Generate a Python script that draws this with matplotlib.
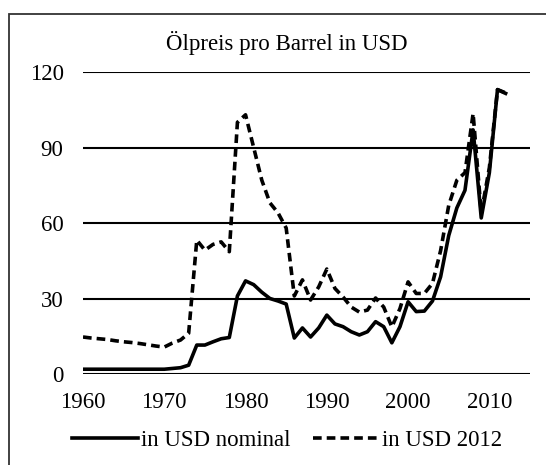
import matplotlib
matplotlib.use("Agg")
import matplotlib.pyplot as plt
from matplotlib.patches import Rectangle

years = list(range(1960, 2013))
nominal = [1.9, 1.9, 1.9, 1.9, 1.9, 1.9, 1.9, 1.9, 1.9, 1.9,
           1.9, 2.2, 2.5, 3.5, 11.5, 11.5, 12.8, 14.0, 14.5, 31.0,
           37.0, 35.5, 32.5, 30.0, 29.0, 27.8, 14.3, 18.3, 14.7, 18.3,
           23.4, 19.9, 18.8, 16.8, 15.5, 16.8, 20.8, 18.8, 12.4, 18.8,
           28.7, 24.8, 25.0, 29.0, 38.6, 55.0, 66.0, 73.0, 97.0, 62.0,
           80.0, 113.0, 111.5]
real2012 = [14.7, 14.3, 14.0, 13.7, 13.2, 12.8, 12.5, 12.1, 11.6, 11.1,
            10.7, 12.3, 13.5, 16.2, 53.2, 49.2, 51.5, 52.5, 48.6, 100.0,
            103.0, 90.0, 77.0, 68.0, 64.0, 58.0, 31.0, 37.4, 29.4, 34.6,
            41.7, 34.0, 30.6, 26.6, 24.6, 25.4, 30.2, 26.6, 18.7, 26.0,
            36.6, 32.0, 32.0, 36.0, 49.0, 67.0, 77.0, 80.0, 103.5, 64.0,
            82.0, 113.0, 111.7]
yticks = [0, 30, 60, 90, 120]
xticks = [1960, 1970, 1980, 1990, 2000, 2010]
title = "Ölpreis pro Barrel in USD"
labels = ["in USD nominal", "in USD 2012"]

plt.rcParams['font.family'] = ['Liberation Serif', 'DejaVu Serif']
fs = 16.5

fig = plt.figure(figsize=(5.46, 4.65), dpi=100)
W, H = 546, 465
ax = fig.add_axes([83 / W, 1 - 374 / H, (530 - 83) / W, (374 - 72) / H])

for y in yticks:
    ax.axhline(y, color='black', lw=1.5, zorder=1)

ax.plot(years, nominal, color='black', lw=2.6, solid_joinstyle='round',
        label=labels[0], zorder=3)
ax.plot(years, real2012, color='black', lw=2.6, linestyle=(0, (2.4, 1.4)),
        label=labels[1], zorder=3)

ax.set_xlim(1960, 2015)
ax.set_ylim(0, 120)
ax.set_yticks(yticks)
ax.set_xticks(xticks)
ax.tick_params(length=0, labelsize=fs)
ax.tick_params(axis='y', pad=14)
ax.tick_params(axis='x', pad=13)
for s in ax.spines.values():
    s.set_visible(False)

fig.text(287 / W, 1 - 43 / H, title, ha='center', va='center', fontsize=fs)

fig.legend(loc='center', bbox_to_anchor=(287 / W, 1 - 440 / H), ncol=2,
           frameon=False, fontsize=fs, handlelength=2.9, handletextpad=0.12,
           columnspacing=1.0)

fig.patches.append(Rectangle((9 / W, -0.1), 1.2, 1.1 - 14 / H,
                             transform=fig.transFigure, fill=False,
                             edgecolor='#333333', lw=1.3))

fig.savefig("out.png", dpi=100)
